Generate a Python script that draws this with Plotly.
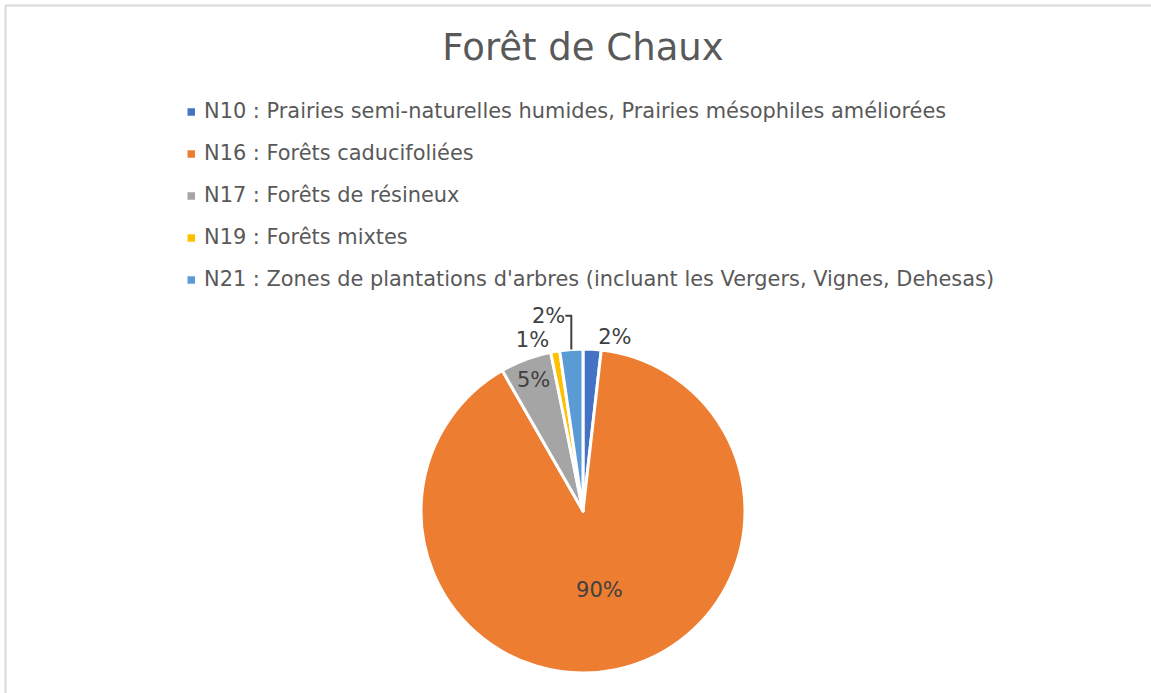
import plotly.graph_objects as go

labels = [
    "N10 : Prairies semi-naturelles humides, Prairies mésophiles améliorées",
    "N16 : Forêts caducifoliées",
    "N17 : Forêts de résineux",
    "N19 : Forêts mixtes",
    "N21 : Zones de plantations d'arbres (incluant les Vergers, Vignes, Dehesas)",
]
values = [1.8, 89.9, 5.1, 0.9, 2.3]
colors = ["#4472C4", "#ED7D31", "#A5A5A5", "#FFC000", "#5B9BD5"]
text_positions = ["outside", "inside", "inside", "outside", "outside"]

W, H = 1151, 693
FONT = "DejaVu Sans"

fig = go.Figure()
fig.add_trace(go.Pie(
    labels=labels,
    values=values,
    sort=False,
    direction="clockwise",
    rotation=0,
    marker=dict(colors=colors, line=dict(color="white", width=3)),
    texttemplate="%{percent:.0%}",
    textposition=text_positions,
    insidetextorientation="horizontal",
    textfont=dict(family=FONT, size=21, color="#404040"),
    outsidetextfont=dict(family=FONT, size=21, color="#404040"),
    domain=dict(x=[421 / W, 745 / W], y=[20 / H, 344 / H]),
    showlegend=False,
    hoverinfo="label+percent",
))

# legend drawn from the labels/colors lists
row0, gap = 112, 42
shapes = []
annotations = []
for i, (lab, col) in enumerate(zip(labels, colors)):
    yc = row0 + gap * i
    shapes.append(dict(type="rect", xref="paper", yref="paper",
                       x0=187.5 / W, x1=195 / W,
                       y0=1 - (yc + 3.75) / H, y1=1 - (yc - 3.75) / H,
                       fillcolor=col, line=dict(width=0)))
    annotations.append(dict(text=lab, xref="paper", yref="paper",
                            x=202 / W, y=1 - (yc - 1) / H, xanchor="left", yanchor="middle",
                            showarrow=False,
                            font=dict(family=FONT, size=20.9, color="#595959")))

# chart frame (top and left edges visible)
shapes.append(dict(type="line", xref="paper", yref="paper",
                   x0=5.5 / W, x1=1, y0=1 - 5.5 / H, y1=1 - 5.5 / H,
                   line=dict(color="#D9D9D9", width=2)))
shapes.append(dict(type="line", xref="paper", yref="paper",
                   x0=5.5 / W, x1=5.5 / W, y0=0, y1=1 - 5.5 / H,
                   line=dict(color="#D9D9D9", width=2)))

fig.update_layout(
    width=W, height=H,
    margin=dict(l=0, r=0, t=0, b=0),
    paper_bgcolor="white",
    plot_bgcolor="white",
    title=dict(text="Forêt de Chaux", x=583 / W, xanchor="center",
               y=1 - 47 / H, yanchor="middle", yref="container",
               font=dict(family=FONT, size=37, color="#595959")),
    shapes=shapes,
    annotations=annotations,
)

fig.write_html("out.html", config={"displayModeBar": False},
               post_script="document.body.style.margin='0';")
